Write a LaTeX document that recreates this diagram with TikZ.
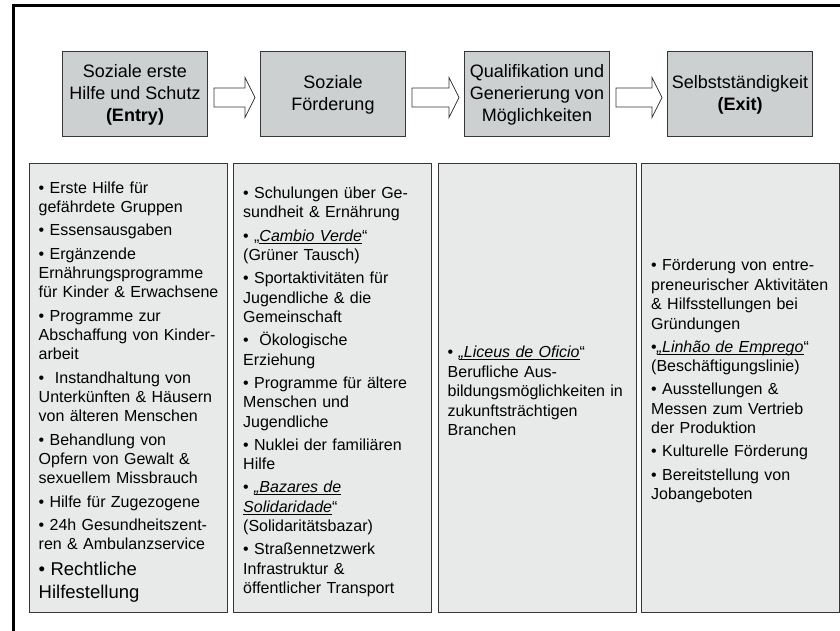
\documentclass[tikz,border=0pt]{standalone}
\usepackage{fontspec}
\setmainfont{Liberation Sans}[Ligatures={TeX,NoCommon}]
\usetikzlibrary{calc}

\definecolor{hdrfill}{RGB}{205,208,208}
\definecolor{colfill}{RGB}{232,233,233}
\definecolor{edge}{RGB}{55,55,55}

% italic, underlined programme names
\newcommand\ulit[1]{{\setbox0\hbox{\itshape #1}\rlap{\rule[-2.4pt]{\wd0}{0.9pt}}\box0}}
% line break that stays inside the current paragraph
\newcommand\nl{\newline}

% hollow block arrow between two stage boxes
\newcommand\stagearrow[2]{%
  \path[blockarrow] let \p1=(#1.east), \p2=(#2.west) in
    (\x1+6pt,\y1-12.5pt) -- (\x2-15pt,\y1-12.5pt) -- (\x2-15pt,\y1-23pt)
    -- (\x2-5pt,\y1-3pt) -- (\x2-15pt,\y1+17pt) -- (\x2-15pt,\y1+6.5pt)
    -- (\x1+6pt,\y1+6.5pt) -- cycle;}

\tikzset{
  stage/.style={draw=edge, line width=1pt, fill=hdrfill, minimum width=145pt,
    minimum height=85pt, align=center, inner sep=0pt,
    font=\fontsize{18}{22}\selectfont},
  column/.style={draw=edge, line width=1pt, fill=colfill, minimum width=198pt,
    minimum height=448pt, inner sep=0pt},
  coltext/.style={anchor=west, text width=200pt, align=left, inner sep=0pt,
    font=\fontsize{16}{19.4}\selectfont,
    execute at begin node={\setlength\parskip{3.8pt}\setlength\parindent{0pt}}},
  blockarrow/.style={draw=edge, line width=0.8pt, fill=white, line join=miter},
  frame/.style={line width=3pt, draw=black},
}

\begin{document}
\begin{tikzpicture}[x=1pt, y=-1pt]
\useasboundingbox (0,0) rectangle (840,631);
\clip (0,0) rectangle (840,631);

% outer frame (top and left edges)
\draw[frame] (13,650) -- (13,5.7) -- (860,5.7);

% stage headers
\node[stage] (h1) at (135,94.5) {Soziale erste\\Hilfe und Schutz\\\textbf{(Entry)}};
\node[stage] (h2) at (333,94.5) {Soziale\\Förderung};
\node[stage] (h3) at (537,94.5) {Qualifikation und\\Generierung von\\Möglichkeiten};
\node[stage] (h4) at (740,94.5) {Selbstständigkeit\\\textbf{(Exit)}};

\stagearrow{h1}{h2}
\stagearrow{h2}{h3}
\stagearrow{h3}{h4}

% measure columns
\node[column] (c1) at (128,388) {};
\node[column] (c2) at (332.5,388) {};
\node[column] (c3) at (537,388) {};
\node[column] (c4) at (740.5,388) {};

\node[coltext] (t1) at ($(c1.west)+(10,4)$) {%
• Erste Hilfe für\nl gefährdete Gruppen\par
• Essensausgaben\par
• Ergänzende\nl Ernährungsprogramme\nl für Kinder \& Erwachsene\par
• Programme zur\nl Abschaffung von Kinder-\nl arbeit\par
•\ \ Instandhaltung von\nl Unterkünften \& Häusern\nl von älteren Menschen\par
• Behandlung von\nl Opfern von Gewalt \&\nl sexuellem Missbrauch\par
• Hilfe für Zugezogene\par
• 24h Gesundheitszent-\nl ren \& Ambulanzservice\par
{\fontsize{18.5}{22.4}\selectfont • Rechtliche\nl Hilfestellung\par}};

\node[coltext] (t2) at ($(c2.west)+(10,4)$) {%
• Schulungen über Ge-\nl sundheit \& Ernährung\par
• „\ulit{Cambio Verde}“\nl (Grüner Tausch)\par
• Sportaktivitäten für\nl Jugendliche \& die\nl Gemeinschaft\par
•\ \ Ökologische\nl Erziehung\par
• Programme für ältere\nl Menschen und\nl Jugendliche\par
• Nuklei der familiären\nl Hilfe\par
• \ulit{„Bazares de}\nl \ulit{Solidaridade}“\nl (Solidaritätsbazar)\par
• Straßennetzwerk\nl Infrastruktur \&\nl öffentlicher Transport\par};

\node[coltext] (t3) at ($(c3.west)+(10,3)$) {%
• \ulit{„Liceus de Oficio}“\nl Berufliche Aus-\nl bildungsmöglichkeiten in\nl zukunftsträchtigen\nl Branchen\par};

\node[coltext] (t4) at ($(c4.west)+(10,-7)$) {%
• Förderung von entre-\nl preneurischer Aktivitäten\nl \& Hilfsstellungen bei\nl Gründungen\par
•\ulit{„Linhão de Emprego}“\nl (Beschäftigungslinie)\par
• Ausstellungen \&\nl Messen zum Vertrieb\nl der Produktion\par
• Kulturelle Förderung\par
• Bereitstellung von\nl Jobangeboten\par};
\end{tikzpicture}
\end{document}
